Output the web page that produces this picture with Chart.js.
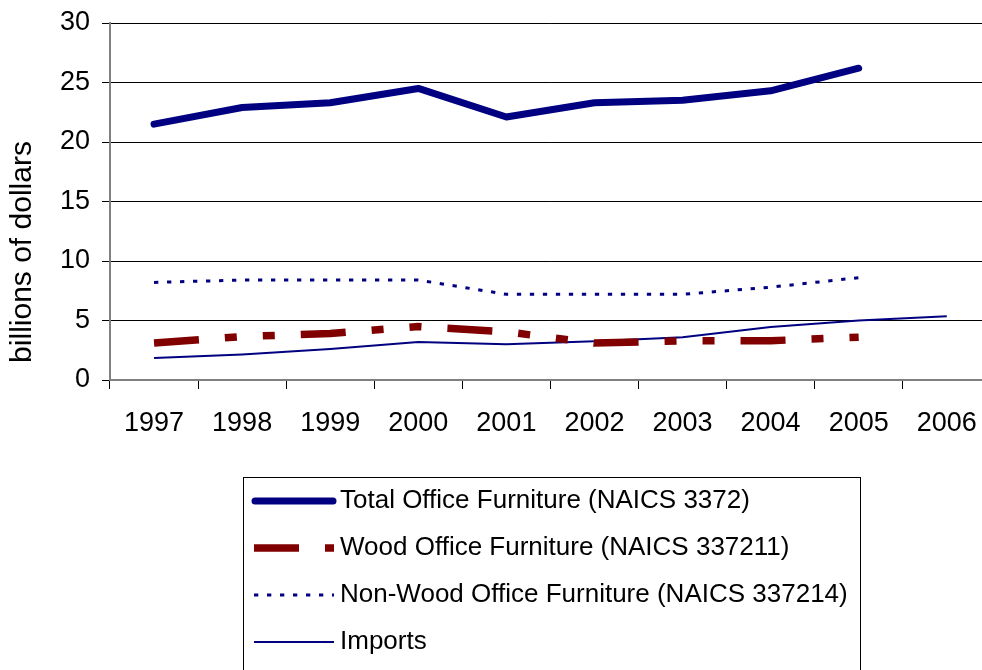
<!DOCTYPE html>
<html>
<head>
<meta charset="utf-8">
<script src="https://cdn.jsdelivr.net/npm/chart.js@4.4.1/dist/chart.umd.min.js"></script>
<style>
  html, body { margin: 0; padding: 0; background: #fff; overflow: hidden; }
  #wrap { position: relative; width: 995px; height: 670px; }
</style>
</head>
<body>
<div id="wrap"><canvas id="chart"></canvas></div>
<script>
// values (billions of dollars)
const years = ['1997', '1998', '1999', '2000', '2001', '2002', '2003', '2004', '2005', '2006'];
const totalOffice = [21.5, 22.9, 23.3, 24.5, 22.1, 23.3, 23.5, 24.3, 26.2, null];
const woodOffice = [3.1, 3.65, 3.9, 4.5, 4.05, 3.1, 3.3, 3.3, 3.6, null];
const nonWoodOffice = [8.2, 8.4, 8.4, 8.4, 7.2, 7.2, 7.2, 7.8, 8.6, null];
const imports = [1.85, 2.15, 2.6, 3.2, 3.0, 3.25, 3.6, 4.45, 5.0, 5.35];
const yTicks = [0, 5, 10, 15, 20, 25, 30];

const seriesNames = [
  'Total Office Furniture (NAICS 3372)',
  'Wood Office Furniture (NAICS 337211)',
  'Non-Wood Office Furniture (NAICS 337214)',
  'Imports'
];

const NAVY = '#000080';
const MAROON = '#800000';
const FONT = '"Liberation Sans", Arial, sans-serif';

// y title + boxed legend, drawn on the canvas like the Excel original
const extrasPlugin = {
  id: 'extras',
  afterDraw(chart) {
    const { ctx } = chart;
    ctx.save();
    ctx.fillStyle = '#000';
    ctx.font = '30px ' + FONT;
    ctx.translate(23, 252);
    ctx.rotate(-Math.PI / 2);
    ctx.textAlign = 'center';
    ctx.textBaseline = 'middle';
    ctx.fillText('billions of dollars', 0, 0);
    ctx.restore();

    // legend box
    ctx.save();
    ctx.strokeStyle = '#000';
    ctx.lineWidth = 1;
    ctx.strokeRect(243.5, 477.5, 617, 260);
    const rows = [501, 548, 595, 642];
    chart.data.datasets.forEach((ds, i) => {
      const y = rows[i];
      ctx.beginPath();
      ctx.strokeStyle = ds.borderColor;
      ctx.lineWidth = ds.borderWidth;
      ctx.lineCap = ds.borderCapStyle || 'butt';
      ctx.setLineDash(ds.borderDash || []);
      if (ds.borderCapStyle === 'round') {
        ctx.moveTo(255, y);
        ctx.lineTo(333, y);
      } else {
        ctx.moveTo(254, y);
        ctx.lineTo(334, y);
      }
      ctx.stroke();
      ctx.setLineDash([]);
      ctx.fillStyle = '#000';
      ctx.font = '26px ' + FONT;
      ctx.textAlign = 'left';
      ctx.textBaseline = 'middle';
      ctx.fillText(ds.label, 340, y);
    });
    ctx.restore();
  }
};

new Chart(document.getElementById('chart'), {
  type: 'line',
  data: {
    labels: years,
    datasets: [
      {
        label: seriesNames[0],
        data: totalOffice,
        borderColor: NAVY,
        borderWidth: 7,
        borderCapStyle: 'round',
        borderJoinStyle: 'round'
      },
      {
        label: seriesNames[1],
        data: woodOffice,
        borderColor: MAROON,
        borderWidth: 7.5,
        borderDash: [45, 26, 12, 26, 12, 26]
      },
      {
        label: seriesNames[2],
        data: nonWoodOffice,
        borderColor: NAVY,
        borderWidth: 3,
        borderDash: [4.3, 8.7]
      },
      {
        label: seriesNames[3],
        data: imports,
        borderColor: NAVY,
        borderWidth: 2
      }
    ]
  },
  options: {
    responsive: true,
    maintainAspectRatio: false,
    animation: false,
    spanGaps: false,
    elements: {
      point: { radius: 0, hoverRadius: 0 },
      line: { tension: 0, fill: false }
    },
    layout: { padding: { top: 23, right: 4, bottom: 230, left: 0 } },
    plugins: {
      legend: { display: false },
      tooltip: { enabled: false }
    },
    scales: {
      x: {
        type: 'category',
        offset: true,
        afterFit: s => { s.height = 60; },
        grid: {
          offset: true,
          drawOnChartArea: false,
          tickLength: 9,
          color: '#000',
          lineWidth: 1
        },
        border: { color: '#808080', width: 2 },
        ticks: {
          color: '#000',
          font: { family: FONT, size: 27 },
          padding: 18,
          maxRotation: 0,
          autoSkip: false
        }
      },
      y: {
        min: 0,
        max: 30,
        afterFit: s => {
          s.width = 110;
          s.paddingTop = 0;
          s.paddingBottom = 0;
        },
        afterBuildTicks: s => { s.ticks = yTicks.map(v => ({ value: v })); },
        grid: {
          color: '#000',
          lineWidth: 1,
          tickLength: 8
        },
        border: { color: '#808080', width: 2 },
        ticks: {
          color: '#000',
          font: { family: FONT, size: 27 },
          padding: 12
        }
      }
    }
  },
  plugins: [extrasPlugin]
});
</script>
</body>
</html>
